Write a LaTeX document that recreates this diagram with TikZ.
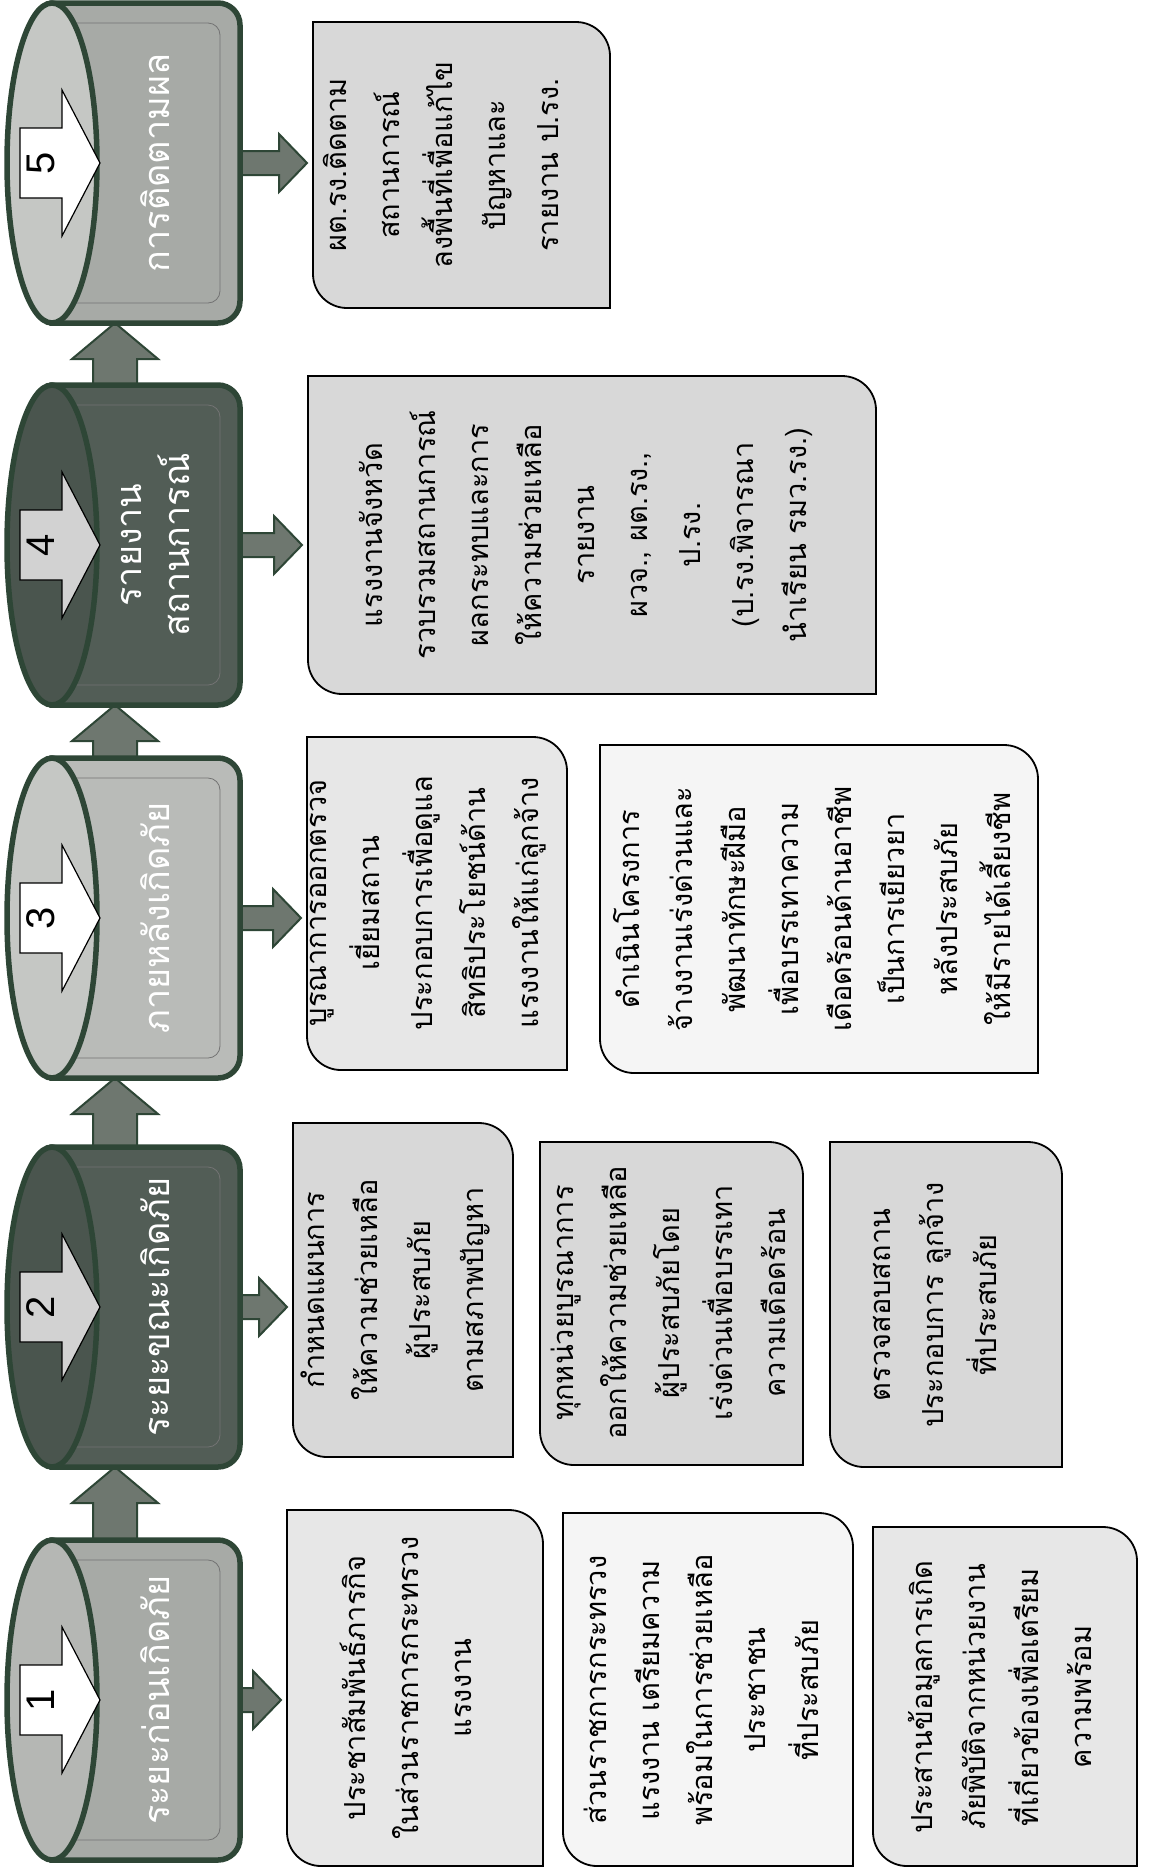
\documentclass[tikz,border=0pt]{standalone}
\usepackage{fontspec}
\newfontfamily\thai[Script=Thai]{Loma}
\newfontfamily\numfont{Liberation Sans}
\usetikzlibrary{calc}
\definecolor{cylline}{HTML}{2E4636}
\definecolor{arrowgray}{HTML}{6E776F}
\definecolor{cylAbody}{HTML}{A7AAA6}
\definecolor{cylAcap}{HTML}{B5B7B4}
\definecolor{cylBbody}{HTML}{525D56}
\definecolor{cylBcap}{HTML}{4A554E}
\definecolor{cylCbody}{HTML}{B9BBB8}
\definecolor{cylCcap}{HTML}{C5C7C4}
\definecolor{numgray}{HTML}{D2D2D2}
\definecolor{boxA}{HTML}{E7E7E7}
\definecolor{boxB}{HTML}{F5F5F5}
\definecolor{boxC}{HTML}{D8D8D8}
\tikzset{
  cylout/.style={draw=cylline, line width=5.5pt},
  barrow/.style={fill=arrowgray, draw=cylline, line width=2pt, line join=miter},
  boxline/.style={draw=black, line width=1.8pt},
  boxtext/.style={rotate=90, align=center, font=\thai\fontsize{29}{53}\selectfont, text=black, inner sep=0pt},
  cyltext/.style={rotate=90, align=center, font=\thai\fontsize{36}{48}\selectfont, text=white, inner sep=0pt},
  numtext/.style={rotate=90, font=\numfont\fontsize{40}{40}\selectfont, text=black, inner sep=0pt},
}
% named anchor points of a cylinder: #1 name, #2 centre y (pixels down)
\newcommand\cylcoords[2]{%
  \coordinate (#1-n) at (115,{-#2+160});
  \coordinate (#1-s) at (115,{-#2-160});
  \coordinate (#1-e) at (240,-#2);}
% #1 name, #2 centre y (pixels down), #3 body fill, #4 cap fill, #5 number-arrow fill, #6 number, #7 label
\newcommand\cylinderdraw[7]{%
  \begin{scope}[shift={(0,-#2)}]
    \draw[cylout, fill=#3] (52,160) -- (218,160) arc[start angle=90,end angle=0,radius=22]
      -- (240,-138) arc[start angle=0,end angle=-90,radius=22] -- (52,-160) -- cycle;
    \draw[line width=0.8pt, draw=black!55] (62,140) -- (208,140) arc[start angle=90,end angle=0,radius=12]
      -- (220,-128) arc[start angle=0,end angle=-90,radius=12] -- (62,-140);
    \draw[cylout, fill=#4] (52,0) ellipse[x radius=45, y radius=160];
    \draw[fill=#5, draw=black, line width=1.2pt] (20,35) -- (62,35) -- (62,73) -- (100,0)
      -- (62,-73) -- (62,-35) -- (20,-35) -- cycle;
    \node[numtext] (#1num) at (41,0) {#6};
    \node[cyltext] (#1lbl) at (155,0) {#7};
  \end{scope}}
% #1 name, #2 x1, #3 y1, #4 x2, #5 y2 (pixels), #6 fill
\newcommand\boxshape[6]{%
  \draw[boxline, fill=#6] (#2,-#3) -- ({#4-34},-#3) arc[start angle=90,end angle=0,radius=34]
    -- (#4,-#5) -- ({#2+34},-#5) arc[start angle=270,end angle=180,radius=34] -- cycle;
  \coordinate (#1-w) at (#2,{-(#3+#5)/2});}
\newcommand\rarrow[2]{%
  \filldraw[barrow] let \p1=(#1), \p2=(#2) in
    (\x1-4pt,\y1+12pt) -- (\x2-34pt,\y1+12pt) -- (\x2-34pt,\y1+29pt) -- (\x2-6pt,\y1)
    -- (\x2-34pt,\y1-29pt) -- (\x2-34pt,\y1-12pt) -- (\x1-4pt,\y1-12pt) -- cycle;}
\newcommand\uarrow[2]{%
  \filldraw[barrow] let \p1=(#1), \p2=(#2) in
    (\x1-22pt,\y1-6pt) -- (\x1-22pt,\y2-36pt) -- (\x1-43pt,\y2-36pt) -- (\x1,\y2)
    -- (\x1+43pt,\y2-36pt) -- (\x1+22pt,\y2-36pt) -- (\x1+22pt,\y1-6pt) -- cycle;}
\begin{document}
\begin{tikzpicture}[x=1pt,y=1pt]
\fill[white] (0,0) rectangle (1149,-1869);
\useasboundingbox (0,0) rectangle (1149,-1869);

% text boxes
\boxshape{b1a}{287}{1510}{543}{1866}{boxA}
\boxshape{b1b}{563}{1513}{853}{1866}{boxB}
\boxshape{b1c}{873}{1527}{1137}{1866}{boxA}
\boxshape{b2a}{293}{1123}{513}{1457}{boxC}
\boxshape{b2b}{540}{1142}{803}{1465}{boxC}
\boxshape{b2c}{830}{1142}{1062}{1467}{boxC}
\boxshape{b3a}{307}{737}{567}{1070}{boxA}
\boxshape{b3b}{600}{745}{1038}{1073}{boxB}
\boxshape{b4}{308}{376}{876}{694}{boxC}
\boxshape{b5}{313}{22}{610}{308}{boxC}

\node[boxtext] (t1a) at (406,-1688) {ประชาสัมพันธ์ภารกิจ\\ในส่วนราชการกระทรวง\\แรงงาน};
\node[boxtext] (t1b) at (701,-1690) {ส่วนราชการกระทรวง\\แรงงาน เตรียมความ\\พร้อมในการช่วยเหลือ\\ประชาชน\\ที่ประสบภัย};
\node[boxtext] (t1c) at (1000,-1697) {ประสานข้อมูลการเกิด\\ภัยพิบัติจากหน่วยงาน\\ที่เกี่ยวข้องเพื่อเตรียม\\ความพร้อม};
\node[boxtext] (t2a) at (395,-1290) {กำหนดแผนการ\\ให้ความช่วยเหลือ\\ผู้ประสบภัย\\ตามสภาพปัญหา};
\node[boxtext] (t2b) at (668,-1303) {ทุกหน่วยบูรณาการ\\ออกให้ความช่วยเหลือ\\ผู้ประสบภัยโดย\\เร่งด่วนเพื่อบรรเทา\\ความเดือดร้อน};
\node[boxtext] (t2c) at (935,-1305) {ตรวจสอบสถาน\\ประกอบการ ลูกจ้าง\\ที่ประสบภัย};
\node[boxtext] (t3a) at (428,-903) {บูรณาการออกตรวจ\\เยี่ยมสถาน\\ประกอบการเพื่อดูแล\\สิทธิประโยชน์ด้าน\\แรงงานให้แก่ลูกจ้าง};
\node[boxtext] (t3b) at (812,-909) {ดำเนินโครงการ\\จ้างงานเร่งด่วนและ\\พัฒนาทักษะฝีมือ\\เพื่อบรรเทาความ\\เดือดร้อนด้านอาชีพ\\เป็นการเยียวยา\\หลังประสบภัย\\ให้มีรายได้เลี้ยงชีพ};
\node[boxtext] (t4) at (586,-535) {แรงงานจังหวัด\\รวบรวมสถานการณ์\\ผลกระทบและการ\\ให้ความช่วยเหลือ\\รายงาน\\ผวจ., ผต.รง.,\\ป.รง.\\(ป.รง.พิจารณา\\นำเรียน รมว.รง.)};
\node[boxtext] (t5) at (441,-165) {ผต.รง.ติดตาม\\สถานการณ์\\ลงพื้นที่เพื่อแก้ไข\\ปัญหาและ\\รายงาน ป.รง.};

% cylinder anchor points
\cylcoords{c1}{1700}
\cylcoords{c2}{1307}
\cylcoords{c3}{918}
\cylcoords{c4}{545}
\cylcoords{c5}{163}

% arrows
\uarrow{c1-n}{c2-s}
\uarrow{c2-n}{c3-s}
\uarrow{c3-n}{c4-s}
\uarrow{c4-n}{c5-s}
\rarrow{c1-e}{b1a-w}
\rarrow{c2-e}{b2a-w}
\rarrow{c3-e}{b3a-w}
\rarrow{c4-e}{b4-w}
\rarrow{c5-e}{b5-w}

% cylinders
\cylinderdraw{k1}{1700}{cylAbody}{cylAcap}{white}{1}{ระยะก่อนเกิดภัย}
\cylinderdraw{k2}{1307}{cylBbody}{cylBcap}{numgray}{2}{ระยะขณะเกิดภัย}
\cylinderdraw{k3}{918}{cylCbody}{cylCcap}{white}{3}{ภายหลังเกิดภัย}
\cylinderdraw{k4}{545}{cylBbody}{cylBcap}{numgray}{4}{รายงาน\\สถานการณ์}
\cylinderdraw{k5}{163}{cylAbody}{cylCcap}{white}{5}{การติดตามผล}
\end{tikzpicture}
\end{document}
